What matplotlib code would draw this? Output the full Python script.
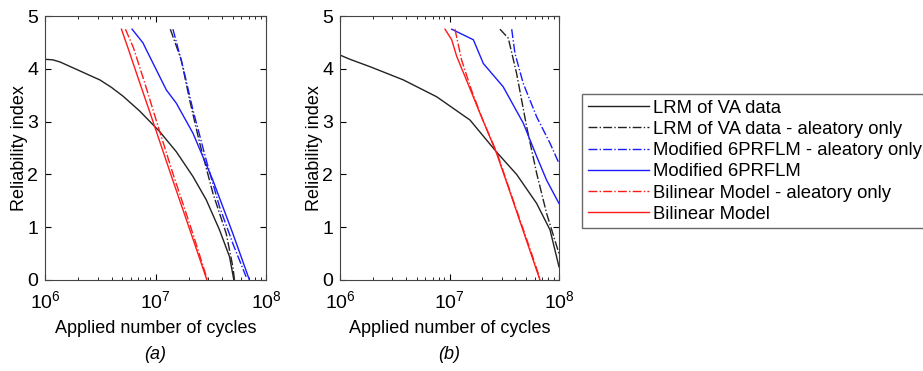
import matplotlib
matplotlib.use("Agg")
import matplotlib.pyplot as plt
import numpy as np

plt.rcParams["font.family"] = ["Liberation Sans", "DejaVu Sans"]
plt.rcParams["mathtext.fontset"] = "custom"
plt.rcParams["mathtext.rm"] = "Liberation Sans"
plt.rcParams["mathtext.it"] = "Liberation Sans:italic"

# Panel (a): log10(cycles), reliability index
a_lrm_x = [6.0, 6.07, 6.135, 6.22, 6.316, 6.40, 6.496, 6.60, 6.707, 6.857, 7.038, 7.188, 7.339, 7.459, 7.579, 7.670, 7.709]
a_lrm_y = [4.18, 4.17, 4.13, 4.05, 3.96, 3.88, 3.79, 3.65, 3.48, 3.20, 2.81, 2.43, 1.96, 1.52, 0.95, 0.44, 0.0]
a_lrm_al_x = [7.134, 7.233, 7.309, 7.40, 7.52, 7.64, 7.70, 7.715]
a_lrm_al_y = [4.75, 4.17, 3.41, 2.59, 1.64, 0.88, 0.25, 0.0]
a_6p_al_x = [7.158, 7.248, 7.339, 7.459, 7.579, 7.700, 7.820]
a_6p_al_y = [4.75, 4.04, 3.22, 2.27, 1.39, 0.69, 0.06]
a_6p_x = [6.788, 6.887, 6.917, 7.098, 7.188, 7.339, 7.519, 7.700, 7.850]
a_6p_y = [4.75, 4.49, 4.36, 3.60, 3.35, 2.78, 1.89, 0.88, 0.0]
a_bl_al_x = [6.728, 6.80, 6.90, 7.01, 7.16, 7.24, 7.35, 7.470]
a_bl_al_y = [4.75, 4.40, 3.75, 3.00, 2.00, 1.50, 0.80, 0.0]
a_bl_x = [6.692, 6.75, 6.85, 6.95, 7.05, 7.15, 7.25, 7.35, 7.465]
a_bl_y = [4.75, 4.40, 3.78, 3.17, 2.55, 1.93, 1.32, 0.71, 0.0]

# Panel (b)
b_lrm_x = [6.0, 6.091, 6.274, 6.578, 6.883, 7.187, 7.431, 7.613, 7.796, 7.918, 8.0]
b_lrm_y = [4.26, 4.18, 4.04, 3.79, 3.47, 3.03, 2.42, 2.00, 1.45, 0.95, 0.25]
b_lrm_al_x = [7.461, 7.537, 7.613, 7.705, 7.796, 7.887, 8.0]
b_lrm_al_y = [4.75, 4.58, 3.91, 2.90, 2.02, 1.26, 0.50]
b_6p_al_x = [7.568, 7.598, 7.674, 7.796, 7.918, 8.0]
b_6p_al_y = [4.75, 4.29, 3.72, 3.09, 2.59, 2.21]
b_6p_x = [7.02, 7.218, 7.309, 7.49, 7.674, 7.796, 7.887, 8.0]
b_6p_y = [4.75, 4.55, 4.10, 3.66, 2.97, 2.34, 1.89, 1.45]
b_bl_al_x = [7.05, 7.11, 7.20, 7.30, 7.435, 7.55, 7.65, 7.75, 7.83]
b_bl_al_y = [4.75, 4.17, 3.60, 3.05, 2.40, 1.70, 1.10, 0.50, 0.0]
b_bl_x = [6.959, 7.02, 7.065, 7.16, 7.27, 7.43, 7.55, 7.65, 7.826]
b_bl_y = [4.75, 4.55, 4.24, 3.76, 3.20, 2.40, 1.68, 1.07, 0.0]

labels = [
    "LRM of VA data",
    "LRM of VA data - aleatory only",
    "Modified 6PRFLM - aleatory only",
    "Modified 6PRFLM",
    "Bilinear Model - aleatory only",
    "Bilinear Model",
]
colors = ["#222222", "#222222", "#1a1aff", "#1a1aff", "#ff1a1a", "#ff1a1a"]
styles = ["-", "-.", "-.", "-", "-.", "-"]

panels = [
    ([a_lrm_x, a_lrm_al_x, a_6p_al_x, a_6p_x, a_bl_al_x, a_bl_x],
     [a_lrm_y, a_lrm_al_y, a_6p_al_y, a_6p_y, a_bl_al_y, a_bl_y], "(a)"),
    ([b_lrm_x, b_lrm_al_x, b_6p_al_x, b_6p_x, b_bl_al_x, b_bl_x],
     [b_lrm_y, b_lrm_al_y, b_6p_al_y, b_6p_y, b_bl_al_y, b_bl_y], "(b)"),
]

W, H = 923, 371
fig = plt.figure(figsize=(W / 100, H / 100), dpi=100)
boxes = [(45, 16, 266, 280), (340, 16, 559, 280)]

handles = []
for (xs, ys, tag), (x0, y0, x1, y1) in zip(panels, boxes):
    ax = fig.add_axes([x0 / W, 1 - y1 / H, (x1 - x0) / W, (y1 - y0) / H])
    handles = []
    for x, y, c, s, lab in zip(xs, ys, colors, styles, labels):
        (h,) = ax.plot(10 ** np.array(x), y, color=c, linestyle=s, linewidth=1.0, label=lab)
        handles.append(h)
    ax.set_xscale("log")
    ax.set_xlim(1e6, 1e8)
    ax.set_ylim(0, 5)
    ax.set_yticks([0, 1, 2, 3, 4, 5])
    ax.tick_params(which="both", direction="in", top=True, right=True, labelsize=14)
    ax.tick_params(which="major", length=4)
    ax.tick_params(which="minor", length=2)
    ax.tick_params(axis="x", which="major", pad=7)
    ax.tick_params(axis="y", which="major", pad=5)
    for sp in ax.spines.values():
        sp.set_color("#444444")
    ax.set_xlabel("Applied number of cycles", fontsize=13, labelpad=6)
    ax.set_ylabel("Reliability index", fontsize=13, labelpad=-1)
    ax.text(0.5, -0.25, tag, transform=ax.transAxes, ha="center", va="top",
            fontsize=13, style="italic")

fig.legend(handles, labels, loc="upper left", bbox_to_anchor=(582 / W, 1 - 94 / H),
           fontsize=13.3, frameon=True, fancybox=False, edgecolor="#444444",
           handlelength=3.35, handletextpad=0.2, borderpad=0.3, labelspacing=0.23,
           borderaxespad=0)

fig.savefig("out.png", dpi=100)
